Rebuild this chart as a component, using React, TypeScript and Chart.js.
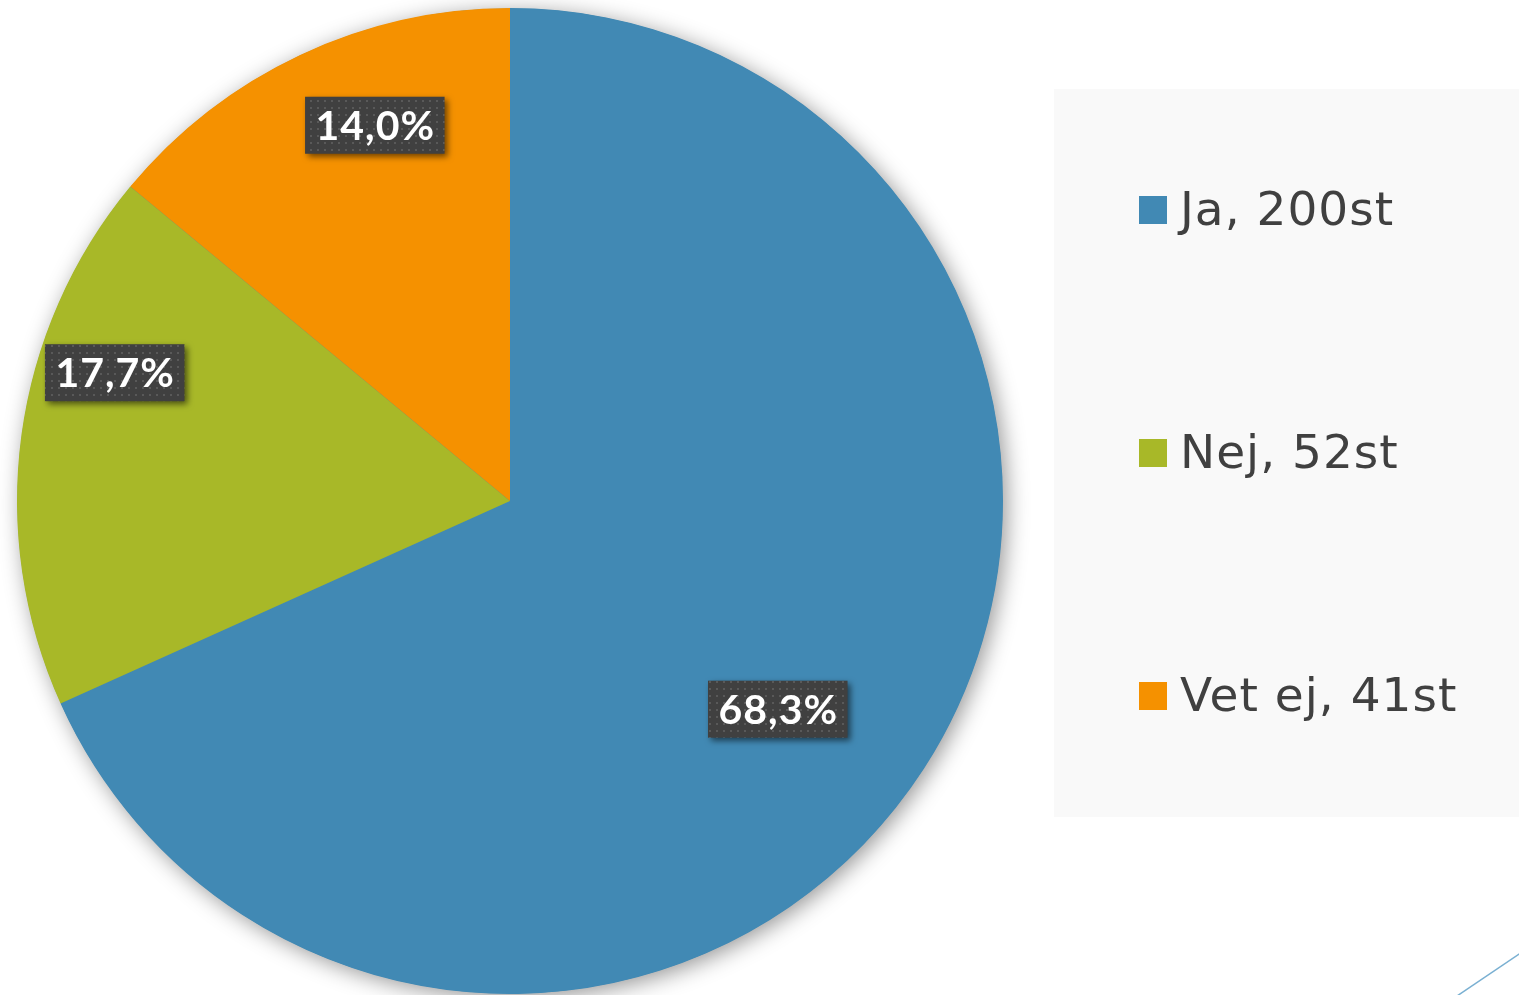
import React, { useEffect, useRef } from "react";
import { Chart, registerables } from "chart.js";

Chart.register(...registerables);

// ---- data ----
const categories = ["Ja", "Nej", "Vet ej"];
const counts = [200, 52, 41];
const unitSuffix = "st";
const sliceColors = ["#4189b4", "#a8b828", "#f59100"];

// ---- style ----
const LEGEND_FONT = '"DejaVu Sans", sans-serif';
const LABEL_FONT = 'Lato, "Open Sans", sans-serif';
// label placement tweaks (angle shift in degrees, radius fraction)
const labelAngleShift = [5.0, 10.3, 5.4];
const labelRadiusFrac = [0.688, 0.843, 0.81];

function pctText(v: number, total: number) {
  return ((v / total) * 100).toFixed(1).replace(".", ",") + "%";
}

function makeDotPattern(ctx: CanvasRenderingContext2D) {
  const c = document.createElement("canvas");
  c.width = 7;
  c.height = 7;
  const p = c.getContext("2d")!;
  p.fillStyle = "#404040";
  p.fillRect(0, 0, 7, 7);
  p.fillStyle = "#595959";
  p.fillRect(2, 2, 2, 2);
  return ctx.createPattern(c, "repeat");
}

const pieShadowPlugin = {
  id: "pieShadow",
  beforeDraw(chart: any) {
    const ctx = chart.ctx;
    ctx.save();
    ctx.fillStyle = "#f9f9f9";
    ctx.fillRect(1054, 89, chart.width - 1054, 728);
    ctx.restore();
  },
  beforeDatasetsDraw(chart: any) {
    const meta = chart.getDatasetMeta(0);
    const arc = meta.data[0];
    if (!arc) return;
    const { x, y, outerRadius } = arc as any;
    const ctx = chart.ctx;
    ctx.save();
    ctx.shadowColor = "rgba(0,0,0,0.42)";
    ctx.shadowBlur = 22;
    ctx.shadowOffsetX = 4;
    ctx.shadowOffsetY = 4;
    ctx.fillStyle = sliceColors[0];
    ctx.beginPath();
    ctx.arc(x, y, outerRadius - 0.5, 0, Math.PI * 2);
    ctx.fill();
    ctx.restore();
  },
};

const overlayPlugin = {
  id: "overlay",
  afterDraw(chart: any) {
    const ctx: any = chart.ctx;
    const ds = chart.data.datasets[0];
    const values: number[] = ds.data;
    const total = values.reduce((a, b) => a + b, 0);
    const meta = chart.getDatasetMeta(0);
    const pattern = makeDotPattern(ctx);

    // data labels
    const fontSize = 41;
    meta.data.forEach((arc: any, i: number) => {
      const { x, y, startAngle, endAngle, outerRadius } = arc;
      const mid = (startAngle + endAngle) / 2 + (labelAngleShift[i] * Math.PI) / 180;
      const r = outerRadius * labelRadiusFrac[i];
      const cx = x + Math.cos(mid) * r;
      const cy = y + Math.sin(mid) * r;
      const text = pctText(values[i], total);
      ctx.save();
      ctx.font = `bold ${fontSize}px ${LABEL_FONT}`;
      ctx.letterSpacing = "1px";
      const tw = ctx.measureText(text).width;
      const bw = tw + 20;
      const bh = 57;
      ctx.shadowColor = "rgba(0,0,0,0.55)";
      ctx.shadowBlur = 6;
      ctx.shadowOffsetX = 3;
      ctx.shadowOffsetY = 3;
      ctx.fillStyle = pattern || "#404040";
      ctx.fillRect(cx - bw / 2, cy - bh / 2, bw, bh);
      ctx.shadowColor = "transparent";
      ctx.shadowBlur = 0;
      ctx.shadowOffsetX = 0;
      ctx.shadowOffsetY = 0;
      ctx.fillStyle = "#ffffff";
      ctx.textAlign = "left";
      ctx.textBaseline = "alphabetic";
      ctx.fillText(text, cx - tw / 2 + 0.5, cy + (fontSize * 0.72) / 2);
      ctx.restore();
    });

    // legend
    const labels: string[] = chart.data.labels;
    const rowTop = 210;
    const rowGap = 243;
    const box = 28;
    ctx.save();
    ctx.font = `47px ${LEGEND_FONT}`;
    ctx.letterSpacing = "1px";
    ctx.textAlign = "left";
    ctx.textBaseline = "alphabetic";
    labels.forEach((lab, i) => {
      const cyL = rowTop + i * rowGap;
      ctx.fillStyle = (ds.backgroundColor as string[])[i];
      ctx.fillRect(1139, cyL - box / 2, box, box);
      ctx.fillStyle = "#404040";
      ctx.fillText(`${lab}, ${values[i]}${unitSuffix}`, 1180, cyL + 15);
    });
    ctx.restore();

    // decorative corner line
    ctx.save();
    ctx.strokeStyle = "#7ab0d2";
    ctx.lineWidth = 1.5;
    ctx.beginPath();
    ctx.moveTo(1457, 996);
    ctx.lineTo(1522, 952);
    ctx.stroke();
    ctx.restore();
  },
};

export default function App() {
  const canvasRef = useRef<HTMLCanvasElement | null>(null);

  useEffect(() => {
    if (!canvasRef.current) return;
    const chart = new Chart(canvasRef.current, {
      type: "pie",
      data: {
        labels: categories,
        datasets: [
          {
            data: counts,
            backgroundColor: sliceColors,
            borderWidth: 0,
          },
        ],
      },
      options: {
        animation: false,
        responsive: true,
        maintainAspectRatio: false,
        layout: { padding: { left: 17, right: 516, top: 8, bottom: 1 } },
        plugins: {
          legend: { display: false },
          tooltip: { enabled: false },
        },
      },
      plugins: [pieShadowPlugin, overlayPlugin],
    });
    return () => chart.destroy();
  }, []);

  return (
    <div
      style={{
        position: "absolute",
        left: 0,
        top: 0,
        width: 1519,
        height: 995,
        background: "#ffffff",
      }}
    >
      <canvas ref={canvasRef} />
    </div>
  );
}
